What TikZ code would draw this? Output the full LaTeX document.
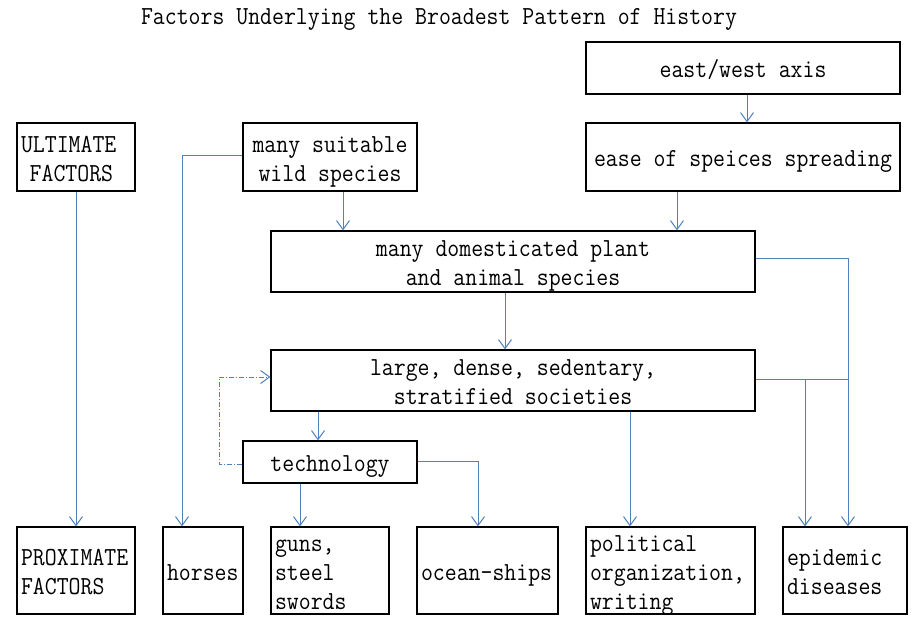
\documentclass[tikz,border=0pt]{standalone}
\usepackage{fontspec}
\setmonofont{Latin Modern Mono}[FakeStretch=0.89]
\usetikzlibrary{arrows.meta}
\definecolor{conn}{RGB}{79,129,189}
\newcommand\txtc[1]{\raisebox{-4pt}[\height][\depth]{\begin{tabular}{@{}c@{}}#1\end{tabular}}}
\newcommand\txtl[1]{\raisebox{-4pt}[\height][\depth]{\begin{tabular}{@{}l@{}}#1\end{tabular}}}
\tikzset{
  box/.style={draw=black, line width=1.2pt, inner xsep=4pt, inner ysep=0pt, minimum height=#1},
  box/.default={68pt},
  cbox/.style={box=#1, align=center},
  lbox/.style={box=87pt, align=left},
  line/.style={draw=conn, line width=1pt},
  arr/.style={line, -{Straight Barb[length=9pt,width=13pt,line width=1pt]}},
}
\begin{document}
\begin{tikzpicture}[x=1pt,y=-1pt,font=\ttfamily\fontsize{26}{29}\selectfont]
\useasboundingbox (0,0) rectangle (920,632);
\node (title) at (439,19) {Factors Underlying the Broadest Pattern of History};
% top boxes
\node[cbox=52pt, minimum width=314pt] (ew) at (743,68) {\txtc{east/west axis}};
\node[cbox=68pt, minimum width=314pt] (ease) at (743,157) {\txtc{ease of speices spreading}};
\node[box=68pt, minimum width=118pt, text width=110pt, align=left] (ult) at (76,157) {\txtl{ULTIMATE\\~FACTORS}};
\node[cbox=68pt, minimum width=174pt] (wild) at (330,157) {\txtc{many suitable\\wild species}};
\node[cbox=61pt, minimum width=484pt] (dom) at (513,261.5) {\txtc{many domesticated plant\\and animal species}};
\node[cbox=61pt, minimum width=484pt] (large) at (513,380.5) {\txtc{large, dense, sedentary,\\stratified societies}};
\node[cbox=42pt, minimum width=174pt] (tech) at (330,462) {\txtc{technology}};
% bottom boxes
\node[lbox, minimum width=118pt, text width=110pt] (prox) at (76,570.5) {\txtl{PROXIMATE\\FACTORS}};
\node[lbox, minimum width=80pt, text width=72pt] (horses) at (203,570.5) {\txtl{horses}};
\node[lbox, minimum width=118pt, text width=110pt] (guns) at (330,570.5) {\txtl{guns,\\steel\\swords}};
\node[lbox, minimum width=141pt, text width=133pt] (ocean) at (487.5,570.5) {\txtl{ocean-ships}};
\node[lbox, minimum width=169pt, text width=161pt] (pol) at (670.5,570.5) {\txtl{political\\organization,\\writing}};
\node[lbox, minimum width=124pt, text width=116pt] (epi) at (845,570.5) {\txtl{epidemic\\diseases}};
% connectors
\draw[arr] ([xshift=4pt]ew.south) -- ([xshift=4pt]ease.north);
\draw[arr] ([xshift=-66pt]ease.south) -- ([xshift=-66pt]ease.south |- dom.north);
\draw[arr] ([yshift=2pt]wild.west) -| ([xshift=-21pt]horses.north);
\draw[arr] ([xshift=13pt]wild.south) -- ([xshift=13pt]wild.south |- dom.north);
\draw[arr] ([xshift=-8pt]dom.south) -- ([xshift=-8pt]large.north);
\draw[arr] ([yshift=3pt]dom.east) -| ([xshift=3pt]epi.north);
\draw[line] ([yshift=1.5pt]large.east) -- ([xshift=3pt,yshift=1.5pt]epi.north |- large.east);
\draw[arr] ([xshift=-40pt,yshift=1.5pt]epi.north |- large.east) -- ([xshift=-40pt]epi.north);
\draw[arr] ([xshift=-40.5pt]pol.north |- large.south) -- ([xshift=-40.5pt]pol.north);
\draw[arr] ([xshift=-12pt]tech.north |- large.south) -- ([xshift=-12pt]tech.north);
\draw[arr] ([xshift=-30pt]tech.south) -- ([xshift=-30pt]guns.north);
\draw[arr] ([yshift=1pt]tech.east) -| ([xshift=-9.5pt]ocean.north);
\draw[arr, dash pattern=on 5pt off 2pt on 1pt off 2pt] ([yshift=-2pt]tech.west) -- ++(-23,0) |- ([yshift=3.5pt]large.west);
\draw[arr] (ult.south) -- (prox.north);
\end{tikzpicture}
\end{document}
